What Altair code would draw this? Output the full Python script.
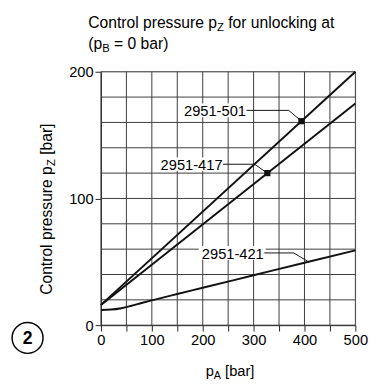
import altair as alt
import pandas as pd

FONT = "Liberation Sans"

# ---------------- data ----------------
grid_x = list(range(0, 501, 50))
grid_y = list(range(0, 201, 20))
x_tick_values = list(range(0, 501, 50))
y_tick_values = [0, 100, 200]

s501_x = [0, 500]
s501_y = [16, 200]
s417_x = [0, 500]
s417_y = [16, 175]
s421_x = [0, 20, 40, 60, 80, 100, 150, 200, 300, 400, 500]
s421_y = [12, 12.3, 13.4, 15.3, 17.5, 19.6, 24.6, 29.5, 39.4, 49.3, 59]

marker_x = [394, 327]
marker_y = [161, 120]

label_names = ["2951-501", "2951-417", "2951-421"]
label_x = [285, 239, 320]          # right end of label text
label_y = [169.5, 127, 57]
bend_x = [369, 302, 379]
end_x = [394, 327, 408]
end_y = [161, 120, 50]

# ---------------- helpers ----------------
W = {' ': 278, '(': 333, ')': 333, '=': 584, '[': 278, ']': 278, '-': 333,
     'A': 667, 'B': 667, 'C': 722, 'Z': 611, 'a': 556, 'b': 556, 'c': 500,
     'e': 556, 'f': 278, 'g': 556, 'i': 222, 'k': 500, 'l': 222, 'n': 556,
     'o': 556, 'p': 556, 'r': 333, 's': 500, 't': 278, 'u': 556}
for d in "0123456789":
    W[d] = 556


def tw(s, size):
    return sum(W.get(c, 556) for c in s) * size / 1000.0


PW, PH = 260, 259
LBL = 15
dummy = pd.DataFrame({"a": [0]})

xs = alt.Scale(domain=[0, 500], nice=False, zero=False)
ys = alt.Scale(domain=[0, 200], nice=False, zero=False)
xaxis = alt.Axis(
    values=x_tick_values, labelExpr="datum.value % 100 === 0 ? datum.label : ''",
    grid=False, domain=True, domainColor="#222", tickColor="#222", tickSize=6,
    labelFont=FONT, labelFontSize=LBL, labelColor="black", title=None,
    labelPadding=2, labelOverlap=False, labelFlush=False)
yaxis = alt.Axis(
    values=y_tick_values, grid=False, domain=True, domainColor="#222", tickColor="#222",
    tickSize=6, labelFont=FONT, labelFontSize=LBL, labelColor="black", title=None,
    labelPadding=2, labelOverlap=False, labelFlush=False)


def X(f):
    return alt.X(f, scale=xs, axis=xaxis)


def Y(f):
    return alt.Y(f, scale=ys, axis=yaxis)


# grid
gx = alt.Chart(pd.DataFrame({"g": grid_x})).mark_rule(color="#3a3a3a", strokeWidth=1).encode(x=X("g:Q"))
gy = alt.Chart(pd.DataFrame({"g": grid_y})).mark_rule(color="#3a3a3a", strokeWidth=1).encode(y=Y("g:Q"))

# white boxes behind labels
kx = 500.0 / PW
ky = 200.0 / PH
rects = pd.DataFrame({
    "x1": [lx - tw(n, LBL) * kx - 3 * kx for lx, n in zip(label_x, label_names)],
    "x2": [lx + 2 * kx for lx in label_x],
    "y1": [ly - 7 * ky for ly in label_y],
    "y2": [ly + 7 * ky for ly in label_y],
})
boxes = alt.Chart(rects).mark_rect(color="white").encode(x=X("x1:Q"), x2="x2", y=Y("y1:Q"), y2="y2")

curves = pd.DataFrame({
    "x": s501_x + s417_x + s421_x,
    "y": s501_y + s417_y + s421_y,
    "s": ["501"] * len(s501_x) + ["417"] * len(s417_x) + ["421"] * len(s421_x),
})
lines = alt.Chart(curves).mark_line(color="#111", strokeWidth=2, interpolate="monotone").encode(
    x=X("x:Q"), y=Y("y:Q"), detail="s:N")

lead_rows = []
for i, n in enumerate(label_names):
    lead_rows += [
        {"n": n, "o": 0, "x": label_x[i] + 1, "y": label_y[i]},
        {"n": n, "o": 1, "x": bend_x[i], "y": label_y[i]},
        {"n": n, "o": 2, "x": end_x[i], "y": end_y[i]},
    ]
leaders = alt.Chart(pd.DataFrame(lead_rows)).mark_line(color="#111", strokeWidth=1).encode(
    x=X("x:Q"), y=Y("y:Q"), detail="n:N", order="o:Q")

dots = alt.Chart(pd.DataFrame({"x": marker_x, "y": marker_y})).mark_point(
    shape="square", filled=True, color="#111", size=40, opacity=1).encode(x=X("x:Q"), y=Y("y:Q"))

labels = alt.Chart(pd.DataFrame({"x": label_x, "y": label_y, "t": label_names})).mark_text(
    align="right", baseline="middle", font=FONT, fontSize=LBL, color="black", dy=1).encode(
    x=X("x:Q"), y=Y("y:Q"), text="t:N")


def rich(pieces, x0, y0, angle=0):
    out = []
    pos = 0.0
    for text, size, shift in pieces:
        while text.startswith(" "):
            pos += tw(" ", size)
            text = text[1:]
        if angle == 0:
            px, py = x0 + pos, y0 + shift
        else:
            px, py = x0 + shift, y0 - pos
        out.append(alt.Chart(dummy).mark_text(
            align="left", baseline="alphabetic", font=FONT, fontSize=size,
            color="black", angle=angle).encode(
            x=alt.value(px), y=alt.value(py), text=alt.value(text)))
        pos += tw(text, size)
    return out


TS = 16
SS = 11.5
title_layers = []
title_layers += rich([("Control pressure p", TS, 0), ("Z", SS, 3), (" for unlocking at", TS, 0)], -13, -45)
title_layers += rich([("(p", TS, 0), ("B", SS, 3), (" = 0 bar)", TS, 0)], -13, -23)
title_layers += rich([("p", 15, 0), ("A", 11, 3), (" [bar]", 15, 0)], 107, 311)
title_layers += rich([("Control pressure p", TS, 0), ("Z", SS, 3), (" [bar]", TS, 0)], -50, 228, angle=270)

circle = alt.Chart(dummy).mark_point(shape="circle", filled=False, color="black", size=1000,
                                     strokeWidth=1.5, opacity=1).encode(
    x=alt.value(-75), y=alt.value(272))
two = alt.Chart(dummy).mark_text(font=FONT, fontSize=18, fontWeight="bold", align="center",
                                 baseline="middle", color="black").encode(
    x=alt.value(-75), y=alt.value(273), text=alt.value("2"))

chart = alt.layer(gx, gy, boxes, lines, leaders, dots, labels, *title_layers, circle, two).properties(
    width=PW, height=PH,
    autosize=alt.AutoSizeParams(type="none"),
    padding={"left": 95, "top": 61, "right": 17, "bottom": 57},
).configure_view(stroke=None).configure(background="white")

chart.save("out.html", embed_options={"renderer": "svg", "actions": False})
